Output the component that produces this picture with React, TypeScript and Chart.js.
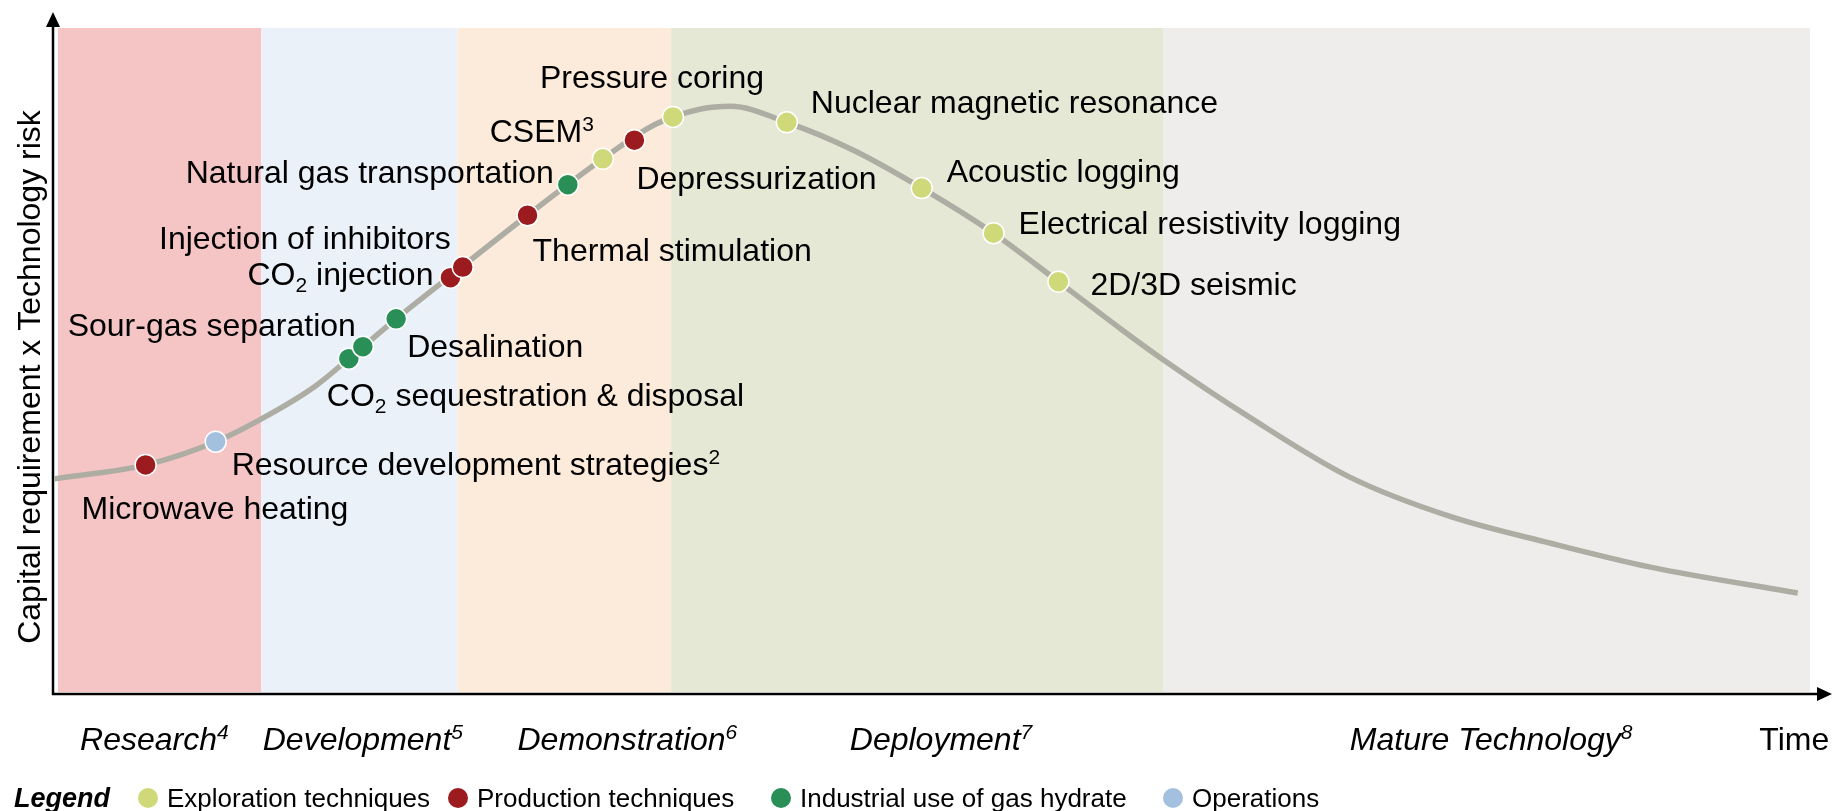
import React, { useEffect, useRef } from "react";
import { Chart, registerables } from "chart.js";

Chart.register(...registerables);

// ---------- data ----------
const stageNames = ["Research^{4}", "Development^{5}", "Demonstration^{6}", "Deployment^{7}", "Mature Technology^{8}"];
const stageBounds = [0, 11.6, 22.8, 35.0, 63.1, 100];
const stageLabelX = [5.5, 17.4, 32.5, 50.4, 81.8];
const timeLabel = "Time";
const timeLabelX = 99.1;
const yAxisTitle = "Capital requirement x Technology risk";

const curveX = [-0.2, 5.0, 9.0, 12.0, 14.7, 16.6, 19.3, 22.7, 26.8, 31.1, 34.1, 36.7, 38.4, 41.6, 45.4, 49.3, 53.4, 57.1, 60.7, 63.0, 68.0, 73.7, 79.5, 85.2, 90.9, 99.3];
const curveY = [32.1, 34.2, 37.7, 41.7, 46.1, 50.2, 56.2, 63.3, 71.8, 80.3, 85.5, 87.8, 88.2, 85.8, 81.6, 75.9, 69.1, 61.8, 54.6, 50.2, 41.4, 32.4, 26.4, 22.4, 18.8, 14.9];

const categoryNames = ["Exploration techniques", "Production techniques", "Industrial use of gas hydrate", "Operations"];

const techNames = [
  "Microwave heating",
  "Resource development strategies^{2}",
  "CO_{2} sequestration & disposal",
  "Sour-gas separation",
  "Desalination",
  "CO_{2} injection",
  "Injection of inhibitors",
  "Thermal stimulation",
  "Natural gas transportation",
  "CSEM^{3}",
  "Depressurization",
  "Pressure coring",
  "Nuclear magnetic resonance",
  "Acoustic logging",
  "Electrical resistivity logging",
  "2D/3D seismic",
];
const techCategory = [1, 3, 2, 2, 2, 1, 1, 1, 2, 0, 1, 0, 0, 0, 0, 0];
const techX = [5.0, 9.0, 16.6, 17.4, 19.3, 22.4, 23.1, 26.8, 29.1, 31.1, 32.9, 35.1, 41.6, 49.3, 53.4, 57.1];
const techY = [34.2, 37.7, 50.2, 52.0, 56.2, 62.4, 64.0, 71.8, 76.4, 80.3, 83.1, 86.6, 85.8, 75.9, 69.1, 61.8];

// ---------- layout / style ----------
const labelDx = [-64, 16, -22, -7, 11, -17, -12, 5, -14, -9, 2, -133, 24, 25, 25, 32];
const labelDy = [43, 22, 36, -22, 27, -4, -29, 35, -13, -28, 38, -40, -20, -17, -10, 2];
const labelAlign = ["left", "left", "left", "right", "left", "right", "right", "left", "right", "right", "left", "left", "left", "left", "left", "left"];

const FAMILY = '"Liberation Sans", Arial, Helvetica, sans-serif';
const bandColors = ["#F5C5C6", "#EAF1F9", "#FCEBDA", "#E4E8D4", "#EEEDEB"];
const categoryColors = ["#CFD97A", "#9B1B1F", "#2A8F57", "#A4C0DF"];
const curveColor = "#AEADA4";

type Part = { t: string; k: number };
function parseRich(s: string): Part[] {
  const parts: Part[] = [];
  const re = /(\^|_)\{([^}]*)\}/g;
  let last = 0;
  let m: RegExpExecArray | null;
  while ((m = re.exec(s))) {
    if (m.index > last) parts.push({ t: s.slice(last, m.index), k: 0 });
    parts.push({ t: m[2], k: m[1] === "^" ? 1 : -1 });
    last = re.lastIndex;
  }
  if (last < s.length) parts.push({ t: s.slice(last), k: 0 });
  return parts;
}

function drawRich(ctx: CanvasRenderingContext2D, s: string, x: number, y: number, size: number, style: string, align: string) {
  const parts = parseRich(s);
  const fontFor = (k: number) => `${style} ${k ? Math.round(size * 0.66) : size}px ${FAMILY}`;
  let w = 0;
  for (const p of parts) {
    ctx.font = fontFor(p.k);
    w += ctx.measureText(p.t).width;
  }
  let cx = align === "right" ? x - w : align === "center" ? x - w / 2 : x;
  ctx.textBaseline = "alphabetic";
  ctx.textAlign = "left";
  const base = y + size * 0.35;
  for (const p of parts) {
    ctx.font = fontFor(p.k);
    const off = p.k === 1 ? -size * 0.34 : p.k === -1 ? size * 0.22 : 0;
    ctx.fillText(p.t, cx, base + off);
    cx += ctx.measureText(p.t).width;
  }
}

const decorPlugin = {
  id: "decor",
  beforeDatasetsDraw(chart: any) {
    const ctx: CanvasRenderingContext2D = chart.ctx;
    const xs = chart.scales.x;
    const { top, bottom, left } = chart.chartArea;
    ctx.save();
    for (let i = 0; i < stageNames.length; i++) {
      const x0 = xs.getPixelForValue(stageBounds[i]);
      const x1 = xs.getPixelForValue(stageBounds[i + 1]);
      ctx.fillStyle = bandColors[i];
      ctx.fillRect(x0, top, x1 - x0, bottom - top);
    }
    // axes with arrows
    const ax = left - 5;
    const ay = bottom + 2;
    ctx.strokeStyle = "#000";
    ctx.fillStyle = "#000";
    ctx.lineWidth = 2.5;
    ctx.beginPath();
    ctx.moveTo(ax, ay + 1);
    ctx.lineTo(ax, 24);
    ctx.moveTo(ax - 1, ay);
    ctx.lineTo(chart.width - 14, ay);
    ctx.stroke();
    ctx.beginPath();
    ctx.moveTo(ax, 12);
    ctx.lineTo(ax - 7, 27);
    ctx.lineTo(ax + 7, 27);
    ctx.closePath();
    ctx.fill();
    ctx.beginPath();
    ctx.moveTo(chart.width - 1, ay);
    ctx.lineTo(chart.width - 16, ay - 7);
    ctx.lineTo(chart.width - 16, ay + 7);
    ctx.closePath();
    ctx.fill();
    ctx.restore();
  },
  afterDatasetsDraw(chart: any) {
    const ctx: CanvasRenderingContext2D = chart.ctx;
    const xs = chart.scales.x;
    const ys = chart.scales.y;
    const { bottom } = chart.chartArea;
    ctx.save();
    ctx.fillStyle = "#000";
    // technology labels
    for (let i = 0; i < techNames.length; i++) {
      const px = xs.getPixelForValue(techX[i]);
      const py = ys.getPixelForValue(techY[i]);
      drawRich(ctx, techNames[i], px + labelDx[i], py + labelDy[i], 32, "", labelAlign[i]);
    }
    // stage labels
    const sy = bottom + 47;
    for (let i = 0; i < stageNames.length; i++) {
      drawRich(ctx, stageNames[i], xs.getPixelForValue(stageLabelX[i]), sy, 32, "italic", "center");
    }
    drawRich(ctx, timeLabel, xs.getPixelForValue(timeLabelX), sy, 32, "", "center");
    // y axis title
    ctx.save();
    ctx.translate(29, (chart.chartArea.top + bottom) / 2 + 17);
    ctx.rotate(-Math.PI / 2);
    drawRich(ctx, yAxisTitle, 0, 0, 32, "", "center");
    ctx.restore();
    // legend
    const ly = bottom + 106;
    drawRich(ctx, "Legend", 14, ly, 27, "italic bold", "left");
    const legendX = [148, 458, 781, 1173];
    for (let i = 0; i < categoryNames.length; i++) {
      ctx.beginPath();
      ctx.fillStyle = categoryColors[i];
      ctx.arc(legendX[i], ly, 10, 0, Math.PI * 2);
      ctx.fill();
      ctx.fillStyle = "#000";
      drawRich(ctx, categoryNames[i], legendX[i] + 19, ly, 26, "", "left");
    }
    ctx.restore();
  },
};

export default function App() {
  const ref = useRef<HTMLCanvasElement | null>(null);
  useEffect(() => {
    if (!ref.current) return;
    const catData = categoryNames.map((_, c) =>
      techX.map((x, i) => ({ x, y: techY[i], c: techCategory[i] })).filter((p) => p.c === c).map((p) => ({ x: p.x, y: p.y }))
    );
    const chart = new Chart(ref.current, {
      type: "scatter",
      data: {
        datasets: [
          ...categoryNames.map((name, c) => ({
            label: name,
            data: catData[c],
            pointRadius: 10.5,
            pointBackgroundColor: categoryColors[c],
            pointBorderColor: "#FFFFFF",
            pointBorderWidth: 1.5,
            showLine: false,
            order: c,
          })),
          {
            label: "curve",
            type: "line",
            data: curveX.map((x, i) => ({ x, y: curveY[i] })),
            borderColor: curveColor,
            borderWidth: 5.5,
            pointRadius: 0,
            cubicInterpolationMode: "monotone",
            fill: false,
            clip: false,
            order: 10,
          } as any,
        ],
      },
      options: {
        responsive: false,
        animation: false,
        layout: { padding: { left: 58, right: 23, top: 28, bottom: 119 } },
        plugins: { legend: { display: false }, tooltip: { enabled: false } },
        events: [],
        scales: {
          x: { type: "linear", min: 0, max: 100, display: false },
          y: { type: "linear", min: 0, max: 100, display: false },
        },
      },
      plugins: [decorPlugin],
    });
    return () => chart.destroy();
  }, []);
  return (
    <div style={{ position: "absolute", left: 0, top: 0, width: 1833, height: 811, background: "#fff" }}>
      <canvas ref={ref} width={1833} height={811} style={{ display: "block" }} />
    </div>
  );
}
